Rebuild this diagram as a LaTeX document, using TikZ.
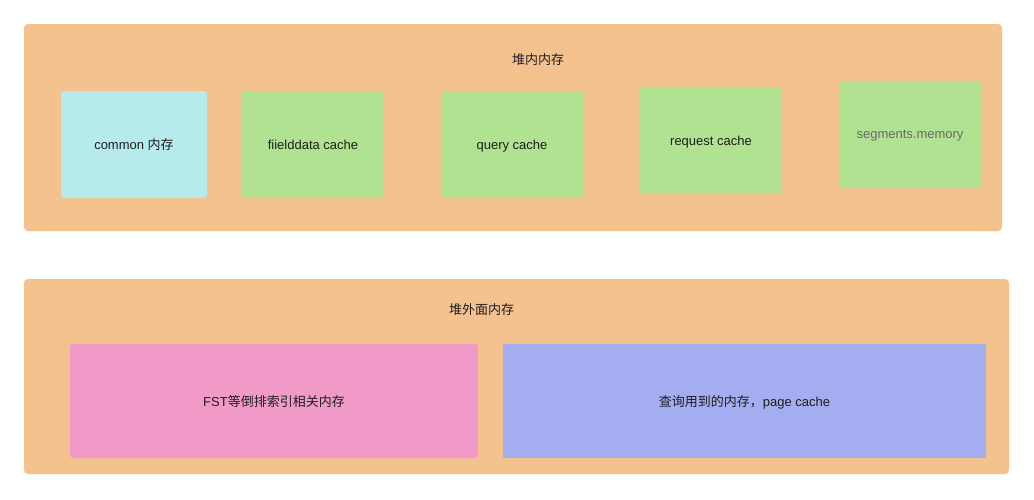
\documentclass[tikz,border=0pt]{standalone}
\usepackage{fontspec}
\setmainfont{Liberation Sans}
\newfontfamily\cjk{Noto Sans CJK SC}
\definecolor{heapbg}{HTML}{F4C28F}
\definecolor{cyanbox}{HTML}{B7EAEA}
\definecolor{greenbox}{HTML}{B1E291}
\definecolor{pinkbox}{HTML}{F19AC8}
\definecolor{bluebox}{HTML}{A4ADF0}
\definecolor{labeltext}{HTML}{1E1E1E}
\definecolor{greytext}{HTML}{6A6A6A}
\tikzset{
  area/.style={fill=heapbg, rounded corners=4pt, inner sep=0pt},
  cell/.style={inner sep=0pt, minimum width=142pt, minimum height=107pt},
  label/.style={text=labeltext, font=\fontsize{13}{15}\selectfont, text depth=0pt},
}

\begin{document}
\begin{tikzpicture}[x=1pt, y=-1pt]
        \useasboundingbox (0, 0) rectangle (1034, 499);
        % heap
        \node[area, minimum width=978pt, minimum height=207pt] (heap) at (513, 127.5) {};
        \node[label] (heaptitle) at (538, 59.5) {\cjk 堆内内存};
        \node[cell, label, fill=cyanbox, rounded corners=3pt, minimum width=146pt] (common) at (134, 144.5) {common {\cjk 内存}};
        \node[cell, label, fill=greenbox] (fielddata) at (313, 144.5) {fiielddata cache};
        \node[cell, label, fill=greenbox] (query) at (512, 144.5) {query cache};
        \node[cell, label, fill=greenbox] (request) at (711, 140.5) {request cache};
        \node[cell, label, fill=greenbox, text=greytext] (segments) at (910, 134.5) {segments.memory};
        % off heap
        \node[area, minimum width=985pt, minimum height=195pt] (offheap) at (516.5, 376.5) {};
        \node[label] (offtitle) at (481.5, 309.5) {\cjk 堆外面内存};
        \node[cell, label, fill=pinkbox, rounded corners=3pt, minimum width=408pt, minimum height=114pt] (fst) at (274, 401) {FST{\cjk 等倒排索引相关内存}};
        \node[cell, label, fill=bluebox, minimum width=483pt, minimum height=114pt] (pagecache) at (744.5, 401) {{\cjk 查询用到的内存，}page cache};
\end{tikzpicture}
\end{document}
